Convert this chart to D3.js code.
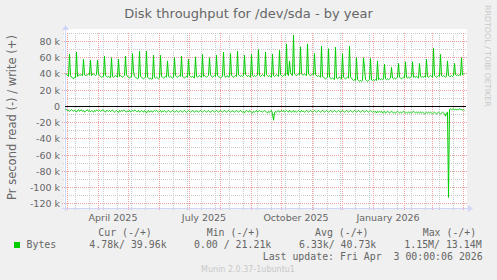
<!DOCTYPE html>
<html>
<head>
<meta charset="utf-8">
<script src="https://cdn.jsdelivr.net/npm/d3@7"></script>
<style>
  body { margin: 0; background: #f0f0f0; }
  svg { display: block; }
</style>
</head>
<body>
<script>
// one value per day, in k (bytes/s), starting at startDay
const startDay = "2025-02-27";
const endDay = "2026-04-03";

const writeK = [
  40, 39.5, 38, 37, 64.5, 38, 36,
  35, 34, 36, 35.5, 67, 37, 38,
  39, 38.5, 39, 38, 58, 39, 38,
  38.5, 39, 40, 39, 57, 38, 39.5,
  40, 39, 38, 39, 57, 40, 38,
  37, 36, 36.5, 37, 62, 38, 37,
  36, 37, 36, 35.5, 60, 37, 36,
  37, 38, 37.5, 36, 58, 37, 38,
  37, 36, 37, 38, 62, 39, 37,
  36, 35, 36, 36.5, 65, 43, 37,
  36, 35, 34, 35, 68, 37, 36,
  35, 34, 35, 36, 68, 36, 35,
  34, 35, 33.5, 34, 63, 36, 35,
  36, 35, 34, 35, 63, 37, 36,
  35, 36, 37, 36, 56, 37, 36,
  37, 36, 35, 36, 60, 38, 37,
  36, 37, 38, 37, 62, 37, 36,
  35, 36, 37, 36, 58, 38, 37,
  36, 37, 36, 35, 61, 37, 36,
  37, 38, 37, 36, 64, 37, 38,
  37, 36, 37, 38, 60, 39, 37,
  36, 37, 38, 37, 63, 38, 37,
  36, 35, 36, 37, 67, 38, 36,
  37, 38, 36, 37, 65, 38, 37,
  36, 37, 38, 37, 68, 39, 38,
  37, 38, 37, 38, 63, 39, 38,
  37, 38, 37, 36, 64, 38, 37,
  38, 37, 38, 39, 70, 38, 37,
  38, 39, 38, 37, 67, 39, 38,
  37, 38, 37, 36, 64.5, 38, 37,
  38, 39, 38, 37, 69, 39, 38,
  37, 38, 39, 38, 77, 40, 38,
  56, 42, 39, 38, 88, 40, 39,
  38, 39, 40, 39, 73.5, 40, 39,
  39, 40, 39, 38, 77, 40, 39,
  38, 39, 40, 39, 65, 39, 38,
  37, 38, 37, 36, 74, 37, 36,
  35, 34, 35, 36, 71, 36, 35,
  34, 35, 34, 33, 73, 35, 34,
  35, 36, 35, 34, 65, 36, 35,
  34, 35, 36, 35, 74, 36, 35,
  33, 32, 33, 32, 60, 33, 32,
  31, 32, 31, 32, 60, 47, 33,
  32, 31, 32, 33, 59, 33, 32,
  33, 32, 33, 32, 56, 33, 34,
  33, 34, 33, 34, 52, 34, 33,
  34, 33, 34, 35, 48, 35, 34,
  35, 34, 35, 36, 53, 36, 35,
  34, 35, 36, 35, 55, 36, 35,
  36, 35, 36, 37, 55, 36, 37,
  36, 37, 36, 35, 53, 37, 36,
  37, 36, 37, 36, 58, 37, 36,
  37, 38, 37, 36, 71.5, 38, 37,
  36, 37, 38, 37, 64, 38, 37,
  38, 37, 36, 37, 56, 38, 37,
  37, 38, 37, 38, 53, 39, 38,
  39, 38, 39, 38, 60, 39, 40,
  40
];

const readK = [
  3.5, 4, 5, 4.5, 6, 5, 4,
  5, 6, 4.5, 5.5, 7, 5, 4,
  6, 5, 4.5, 6, 5, 7, 6,
  5, 4, 6, 5.5, 6.5, 5, 6,
  7, 5, 6, 4.5, 5, 6, 5,
  6, 5.5, 4, 5, 6, 7, 5,
  5, 6, 5, 6.5, 5, 4.5, 6,
  7, 6, 5, 6, 7.5, 5, 6,
  5, 6, 4.5, 5, 6, 7, 5.5,
  6, 5, 7, 6, 5, 6, 4.5,
  5, 6.5, 6, 5, 7, 6, 5,
  6, 7, 5, 6, 8, 6, 5,
  7, 6, 5.5, 7, 6, 5, 6,
  5, 6, 7, 6, 5, 7, 6,
  6, 5, 6.5, 7, 6, 5, 6,
  7, 6, 5, 6, 7, 6.5, 5,
  6, 7, 6, 5, 6, 7, 6,
  5, 6, 7.5, 6, 5, 6, 7,
  6, 5, 6, 7, 6, 5.5, 6,
  7, 6, 5, 6, 7, 6, 5,
  6, 7, 6, 5, 6.5, 7, 6,
  5, 6, 7, 6, 5, 6, 7,
  6, 5, 6, 7, 6, 5, 6,
  7, 6, 5, 6, 7, 6, 5.5,
  6, 7, 6, 5, 6, 7, 6,
  5, 6, 7, 6, 8, 6, 5,
  6, 7, 5, 6, 7, 8, 6,
  7, 6, 5, 7, 6, 5, 6,
  6, 7, 6, 5, 6, 7, 8,
  6, 7, 6, 5, 9, 17, 8,
  6, 7, 6, 5, 7, 6, 5,
  6, 5, 7, 6, 5, 6, 7,
  5, 6, 7, 6, 5, 7, 6,
  7, 6, 5, 6, 7, 5, 6,
  6, 7, 6, 5, 6, 7, 6,
  5, 6, 7, 6, 5, 6, 7,
  6, 5, 6, 7, 6, 5, 6,
  7, 6, 5, 6, 7, 6, 5,
  6, 7, 6, 5, 6, 7, 6,
  5, 6, 7, 6, 5, 6, 7,
  6, 5, 6, 7, 6, 5, 6,
  7, 6, 5, 6, 7, 6, 5,
  6, 7, 6, 5, 6, 7, 6,
  5, 6, 7, 6, 5, 6, 7,
  6, 7, 6, 8, 6, 7, 6,
  7, 6, 8, 7, 6, 8, 7,
  6, 7, 8, 7, 6, 7, 8,
  7, 8, 7, 6, 7, 8, 7,
  8, 7, 6, 7, 8, 7, 8,
  7, 8, 7, 8, 7, 6, 7,
  8, 7, 8, 7, 8, 7, 8,
  7, 8, 9, 8, 7, 8, 7,
  8, 7, 8, 9, 8, 7, 8,
  9, 8, 7, 8, 9, 8, 7,
  8, 9, 12, 8, 7, 112, 3.5,
  3, 4, 3.5, 3, 4, 3.5, 4,
  3.5, 4, 3, 3.5, 4, 4.5, 4,
  4.78
];

const yTicks = [-120, -100, -80, -60, -40, -20, 0, 20, 40, 60, 80];
const yMinor = [-110, -90, -70, -50, -30, -10, 10, 30, 50, 70, 90];
const legendHeads = ["Cur (-/+)", "Min (-/+)", "Avg (-/+)", "Max (-/+)"];
const legendVals = ["4.78k/ 39.96k", "0.00 / 21.21k", "6.33k/ 40.73k", "1.15M/ 13.14M"];

const width = 497, height = 280;
const plotL = 65, plotR = 465, plotT = 33, plotB = 208;

const svg = d3.select("body").append("svg")
  .attr("width", width)
  .attr("height", height)
  .style("font-family", "'DejaVu Sans', sans-serif");

svg.append("rect").attr("width", width).attr("height", height).attr("fill", "#f0f0f0");
svg.append("rect")
  .attr("x", plotL - 1).attr("y", plotT - 4)
  .attr("width", plotR - plotL + 3).attr("height", plotB - plotT + 4)
  .attr("fill", "#ffffff");

const t0 = d3.utcParse("%Y-%m-%d")(startDay);
const t1 = d3.utcParse("%Y-%m-%d")(endDay);

const x = d3.scaleUtc().domain([t0, t1]).range([plotL, plotR]);
const y = d3.scaleLinear().domain([-125, 90.4]).range([plotB, plotT]);

const px = v => Math.floor(v) + 0.5;

// grid
const grid = svg.append("g").attr("stroke-dasharray", "1,1").attr("shape-rendering", "crispEdges");

grid.selectAll(".vmin")
  .data(d3.utcSunday.every(2).range(t0, t1))
  .join("line")
  .attr("x1", d => px(x(d))).attr("x2", d => px(x(d)))
  .attr("y1", plotT).attr("y2", plotB + 2)
  .attr("stroke", "#c8c8c8");

grid.selectAll(".hmin")
  .data(yMinor)
  .join("line")
  .attr("x1", plotL - 2).attr("x2", plotR + 2)
  .attr("y1", d => px(y(d))).attr("y2", d => px(y(d)))
  .attr("stroke", "#c8c8c8");

grid.selectAll(".vmaj")
  .data(d3.utcMonth.range(t0, t1))
  .join("line")
  .attr("x1", d => px(x(d))).attr("x2", d => px(x(d)))
  .attr("y1", plotT).attr("y2", plotB + 3)
  .attr("stroke", "#f4a0a0");

grid.selectAll(".hmaj")
  .data(yTicks.filter(v => v !== 0))
  .join("line")
  .attr("x1", plotL - 3).attr("x2", plotR + 2)
  .attr("y1", d => px(y(d))).attr("y2", d => px(y(d)))
  .attr("stroke", "#f4a0a0");

// axes
const axisColor = "#cfd6f8";
svg.append("line")
  .attr("x1", plotL - 3).attr("x2", plotR + 4)
  .attr("y1", plotB + 0.5).attr("y2", plotB + 0.5)
  .attr("stroke", axisColor);
svg.append("path")
  .attr("d", `M${plotR + 3},${plotB - 3}L${plotR + 8},${plotB + 0.5}L${plotR + 3},${plotB + 4}Z`)
  .attr("fill", axisColor);
svg.append("line")
  .attr("x1", plotL + 0.5).attr("x2", plotL + 0.5)
  .attr("y1", plotB + 3).attr("y2", plotT - 4)
  .attr("stroke", axisColor);
svg.append("path")
  .attr("d", `M${plotL - 3},${plotT - 3}L${plotL + 0.5},${plotT - 8}L${plotL + 4},${plotT - 3}Z`)
  .attr("fill", axisColor);

// zero line
svg.append("line")
  .attr("x1", plotL).attr("x2", plotR + 1)
  .attr("y1", px(y(0))).attr("y2", px(y(0)))
  .attr("stroke", "#000");

// data lines
const dayX = i => x(d3.utcHour.offset(d3.utcDay.offset(t0, i), 12));

svg.append("path")
  .datum(writeK)
  .attr("fill", "none")
  .attr("stroke", "#00cc00")
  .attr("stroke-width", 1)
  .attr("d", d3.line().x((d, i) => dayX(i)).y(d => y(d)));

svg.append("path")
  .datum(readK)
  .attr("fill", "none")
  .attr("stroke", "#00cc00")
  .attr("stroke-width", 1)
  .attr("d", d3.line().x((d, i) => dayX(i)).y(d => y(-d)));

// y tick labels
svg.append("g")
  .attr("font-size", "9.5px")
  .attr("fill", "#666")
  .attr("text-anchor", "end")
  .selectAll("text")
  .data(yTicks)
  .join("text")
  .attr("x", 60)
  .attr("y", d => y(d) + 3.5)
  .text(d => d === 0 ? "0" : `${d} k`);

// x labels, every 3 months, centred mid-month
const fmt = d3.utcFormat("%B %Y");
svg.append("g")
  .attr("font-size", "9.5px")
  .attr("fill", "#666")
  .attr("text-anchor", "middle")
  .selectAll("text")
  .data(d3.utcMonth.every(3).range(t0, t1).filter(d => d3.utcDay.offset(d, 15) < t1))
  .join("text")
  .attr("x", d => x(d3.utcDay.offset(d, 15)))
  .attr("y", 220.7)
  .text(d => fmt(d));

// title
svg.append("text")
  .attr("x", 248.5).attr("y", 17.7)
  .attr("text-anchor", "middle")
  .attr("font-size", "13px")
  .attr("fill", "#666")
  .text("Disk throughput for /dev/sda - by year");

// y label
svg.append("text")
  .attr("transform", "translate(15.5,117.5) rotate(-90)")
  .attr("text-anchor", "middle")
  .attr("font-size", "11.5px")
  .attr("fill", "#666")
  .text("Pr second read (-) / write (+)");

// watermark
svg.append("text")
  .attr("transform", "translate(484.5,5) rotate(90)")
  .attr("font-size", "7.9px")
  .attr("fill", "#c8c8c8")
  .text("RRDTOOL / TOBI OETIKER");

// legend
const mono = "'DejaVu Sans Mono', monospace";
const lg = svg.append("g")
  .attr("font-family", mono)
  .attr("font-size", "9.9px")
  .attr("fill", "#666");

const headX = [98.3, 206.7, 315, 422.7];
const valX = [89.3, 194, 299, 404.3];

lg.selectAll(".head")
  .data(legendHeads)
  .join("text")
  .attr("x", (d, i) => headX[i])
  .attr("y", 235.7)
  .text(d => d);

lg.append("rect")
  .attr("x", 14).attr("y", 242)
  .attr("width", 6).attr("height", 6)
  .attr("fill", "#00cc00");

lg.append("text").attr("x", 26.5).attr("y", 247.7).text("Bytes");

lg.selectAll(".val")
  .data(legendVals)
  .join("text")
  .attr("x", (d, i) => valX[i])
  .attr("y", 247.7)
  .text(d => d);

lg.append("text")
  .attr("x", 482.7).attr("y", 260)
  .attr("text-anchor", "end")
  .attr("xml:space", "preserve")
  .style("white-space", "pre")
  .text("Last update: Fri Apr  3 00:00:06 2026");

svg.append("text")
  .attr("x", 248).attr("y", 271.7)
  .attr("text-anchor", "middle")
  .attr("font-size", "8px")
  .attr("fill", "#c8c8c8")
  .text("Munin 2.0.37-1ubuntu1");
</script>
</body>
</html>
